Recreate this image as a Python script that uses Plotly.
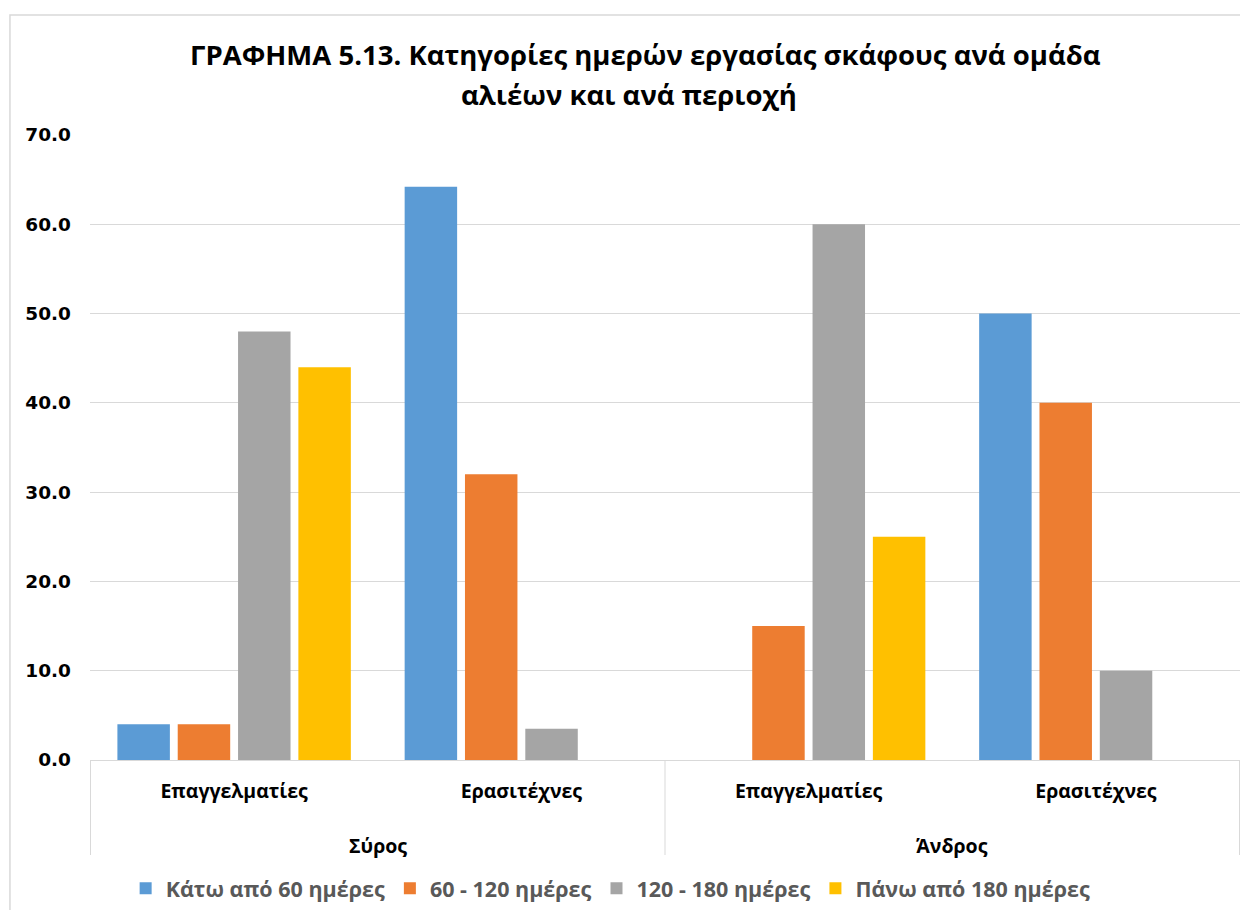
import plotly.graph_objects as go

regions = ["Σύρος", "Άνδρος"]
keys = ["Σύρος|Επαγγελματίες", "Σύρος|Ερασιτέχνες", "Άνδρος|Επαγγελματίες", "Άνδρος|Ερασιτέχνες"]
labels = ["Επαγγελματίες", "Ερασιτέχνες", "Επαγγελματίες", "Ερασιτέχνες"]

series_names = ["Κάτω από 60 ημέρες", "60 - 120 ημέρες", "120 - 180 ημέρες", "Πάνω από 180 ημέρες"]
below60 = [4.0, 64.2, None, 50.0]
d60_120 = [4.0, 32.0, 15.0, 40.0]
d120_180 = [48.0, 3.5, 60.0, 10.0]
above180 = [44.0, None, 25.0, None]
colors = ["#5B9BD5", "#ED7D31", "#A5A5A5", "#FFC000"]

title_lines = ["ΓΡΑΦΗΜΑ 5.13. Κατηγορίες ημερών εργασίας σκάφους ανά ομάδα",
               "αλιέων και ανά περιοχή"]

sans = "Open Sans, sans-serif"

fig = go.Figure()
for name, vals, col in zip(series_names, [below60, d60_120, d120_180, above180], colors):
    fig.add_trace(go.Bar(x=keys, y=vals, name=name,
                         marker=dict(color=col, line=dict(width=0))))

# page has an 8px body margin, so the figure is 8px smaller than the window
fig.update_layout(
    width=1240, height=902,
    paper_bgcolor="white", plot_bgcolor="white",
    margin=dict(l=82, r=8, t=127, b=150),
    barmode="group", bargap=0.16, bargroupgap=0.13,
    legend=dict(orientation="h", x=0.486, xanchor="center", xref="container",
                y=0.024, yanchor="middle", yref="container",
                font=dict(family=sans, size=21.5, color="#595959", weight="bold"),
                itemwidth=30, tracegroupgap=0),
    font=dict(family=sans),
    showlegend=True,
)

# title as two lines
fig.add_annotation(x=0.483, xref="paper", y=1.1284, yref="paper", text=title_lines[0],
                   showarrow=False, xanchor="center", yanchor="middle",
                   font=dict(family=sans, size=27.5, color="#000000", weight="bold"))
fig.add_annotation(x=0.469, xref="paper", y=1.0642, yref="paper", text=title_lines[1],
                   showarrow=False, xanchor="center", yanchor="middle",
                   font=dict(family=sans, size=27.5, color="#000000", weight="bold"))

fig.update_yaxes(range=[0, 70], dtick=10, tickformat=".1f", automargin=False,
                 showgrid=True, gridcolor="#d9d9d9", gridwidth=1,
                 zeroline=False, ticks="", ticklen=0, ticklabelstandoff=18,
                 tickfont=dict(family="DejaVu Sans, Verdana, sans-serif", size=18.5,
                               color="#000000", weight="bold"))
fig.update_xaxes(type="category", categoryorder="array", categoryarray=keys,
                 tickvals=keys, ticktext=labels, automargin=False,
                 showline=True, linecolor="#d9d9d9", linewidth=1, ticks="",
                 ticklabelstandoff=14,
                 tickfont=dict(family=sans, size=19.5, color="#000000", weight="bold"))

# region labels under the group labels
for i, reg in enumerate(regions):
    fig.add_annotation(x=2 * i + 0.5, xref="x", y=-0.136, yref="paper",
                       text=reg, showarrow=False, yanchor="middle",
                       font=dict(family=sans, size=19.5, color="#000000", weight="bold"))

# dividers between regions
for xd in [-0.5, 1.5, 3.5]:
    fig.add_shape(type="line", xref="x", yref="paper", x0=xd, x1=xd, y0=0, y1=-0.152,
                  line=dict(color="#d9d9d9", width=1))

fig.add_shape(type="rect", xref="paper", yref="paper",
              x0=-0.0696, x1=1.006, y0=-0.3, y1=1.192,
              line=dict(color="#d9d9d9", width=1.5), fillcolor="rgba(0,0,0,0)", layer="below")

fig.write_html("out.html")
